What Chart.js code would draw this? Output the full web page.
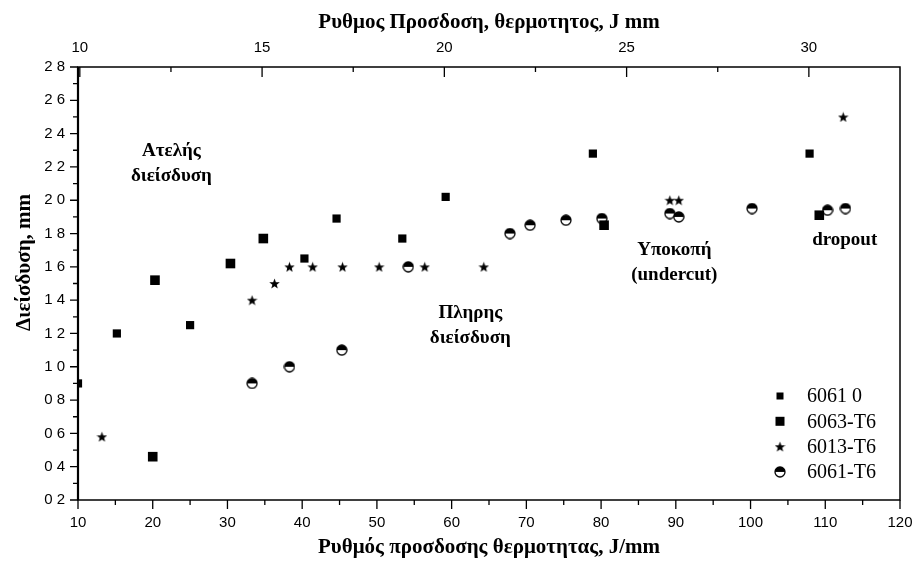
<!DOCTYPE html>
<html>
<head>
<meta charset="utf-8">
<script src="https://cdn.jsdelivr.net/npm/chart.js@4.4.1/dist/chart.umd.min.js"></script>
<style>
  html, body { margin: 0; padding: 0; background: #fff; }
  #wrap { width: 917px; height: 571px; }
</style>
</head>
<body>
<div id="wrap"><canvas id="penChart" width="917" height="571"></canvas></div>
<script>
// heat input (J/mm) and penetration depth (mm) per alloy
const heat6061O = [10, 15.2, 25.0, 40.3, 44.6, 53.4, 59.2, 78.9, 107.9];
const depth6061O = [0.90, 1.20, 1.25, 1.65, 1.89, 1.77, 2.02, 2.28, 2.28];

const heat6063T6 = [20.0, 20.3, 30.4, 34.8, 80.4, 109.2];
const depth6063T6 = [0.46, 1.52, 1.62, 1.77, 1.85, 1.91];

const heat6013T6 = [13.2, 33.3, 36.3, 38.3, 41.4, 45.4, 50.3, 56.4, 64.3, 89.2, 90.4, 112.4];
const depth6013T6 = [0.58, 1.40, 1.50, 1.60, 1.60, 1.60, 1.60, 1.60, 1.60, 2.00, 2.00, 2.50];

const heat6061T6 = [33.3, 38.3, 45.3, 54.2, 67.8, 70.5, 75.3, 80.1, 89.2, 90.4, 100.2, 110.3, 112.7];
const depth6061T6 = [0.90, 1.00, 1.10, 1.60, 1.80, 1.85, 1.88, 1.89, 1.92, 1.90, 1.95, 1.94, 1.95];

const seriesNames = ['6061 0', '6063-T6', '6013-T6', '6061-T6'];

// axis ticks
const xTicks = [10, 20, 30, 40, 50, 60, 70, 80, 90, 100, 110, 120];
const yTicks = [0.2, 0.4, 0.6, 0.8, 1.0, 1.2, 1.4, 1.6, 1.8, 2.0, 2.2, 2.4, 2.6, 2.8];
const topTicks = [10, 15, 20, 25, 30];

const yTitle = 'Διείσδυση, mm';

// region labels, placed in data units
const notes = [
    { lines: ['Ατελής', 'διείσδυση'], x: 22.5, y: 2.22 },
    { lines: ['Πληρης', 'διείσδυση'], x: 62.5, y: 1.25 },
    { lines: ['Υποκοπή', '(undercut)'], x: 89.8, y: 1.625 },
    { lines: ['dropout'], x: 112.6, y: 1.76 }
];

function toPoints(xs, ys) {
    return xs.map(function (x, i) { return { x: x, y: ys[i] }; });
}

function makeStar(size) {
    var c = document.createElement('canvas');
    c.width = size; c.height = size;
    var g = c.getContext('2d');
    var cx = size / 2, cy = size / 2 + 0.5, ro = size / 2, ri = ro * 0.42;
    g.beginPath();
    for (var i = 0; i < 10; i++) {
        var r = i % 2 === 0 ? ro : ri;
        var a = -Math.PI / 2 + i * Math.PI / 5;
        g.lineTo(cx + r * Math.cos(a), cy + r * Math.sin(a));
    }
    g.closePath();
    g.fillStyle = '#000';
    g.fill();
    return c;
}

function makeHalfCircle(size) {
    var c = document.createElement('canvas');
    c.width = size; c.height = size;
    var g = c.getContext('2d');
    var cx = size / 2, cy = size / 2, r = size / 2 - 1;
    g.beginPath();
    g.arc(cx, cy, r, 0, Math.PI * 2);
    g.fillStyle = '#fff';
    g.fill();
    g.beginPath();
    g.arc(cx, cy, r, Math.PI, 0);
    g.closePath();
    g.fillStyle = '#000';
    g.fill();
    g.beginPath();
    g.arc(cx, cy, r, 0, Math.PI * 2);
    g.lineWidth = 1.3;
    g.strokeStyle = '#000';
    g.stroke();
    return c;
}

const starImg = makeStar(11);
const halfImg = makeHalfCircle(12);

function noEdgePadding(s) {
    s.paddingLeft = 0; s.paddingRight = 0; s.paddingTop = 0; s.paddingBottom = 0;
}

// minor ticks, axis frame, y title, region labels and the inset legend
const framePlugin = {
    id: 'frame',
    afterDraw: function (chart) {
        var ctx = chart.ctx;
        var a = chart.chartArea;
        var sx = chart.scales.x, sy = chart.scales.y, st = chart.scales.x2;
        ctx.save();
        ctx.strokeStyle = '#000';

        ctx.lineWidth = 1.5;
        ctx.strokeRect(a.left, a.top, a.right - a.left, a.bottom - a.top);
        ctx.lineWidth = 2.2;
        ctx.beginPath();
        ctx.moveTo(a.left, a.top); ctx.lineTo(a.left, a.bottom);
        ctx.stroke();

        ctx.lineWidth = 1.3;
        ctx.beginPath();
        // bottom: major + half-step minor, pointing out
        for (var i = 0; i < xTicks.length; i++) {
            var px = sx.getPixelForValue(xTicks[i]);
            ctx.moveTo(px, a.bottom); ctx.lineTo(px, a.bottom + 9);
            if (i < xTicks.length - 1) {
                var pm = sx.getPixelForValue((xTicks[i] + xTicks[i + 1]) / 2);
                ctx.moveTo(pm, a.bottom); ctx.lineTo(pm, a.bottom + 5);
            }
        }
        // left
        for (var j = 0; j < yTicks.length; j++) {
            var py = sy.getPixelForValue(yTicks[j]);
            ctx.moveTo(a.left, py); ctx.lineTo(a.left - 8, py);
            if (j < yTicks.length - 1) {
                var pym = sy.getPixelForValue((yTicks[j] + yTicks[j + 1]) / 2);
                ctx.moveTo(a.left, pym); ctx.lineTo(a.left - 5, pym);
            }
        }
        // top: pointing in
        for (var k = 0; k < topTicks.length; k++) {
            var pt = st.getPixelForValue(topTicks[k]);
            ctx.moveTo(pt, a.top); ctx.lineTo(pt, a.top + 10);
            var ptm = st.getPixelForValue(topTicks[k] + 2.5);
            if (ptm < a.right) { ctx.moveTo(ptm, a.top); ctx.lineTo(ptm, a.top + 5); }
        }
        ctx.stroke();

        ctx.fillStyle = '#000';
        ctx.textAlign = 'center';
        ctx.textBaseline = 'middle';

        // y title sits a little above the axis middle
        ctx.save();
        ctx.translate(25, (a.top + a.bottom) / 2 - 21);
        ctx.rotate(-Math.PI / 2);
        ctx.font = 'bold 21px "Liberation Serif", "Times New Roman", serif';
        ctx.fillText(yTitle, 0, 0);
        ctx.restore();

        ctx.font = 'bold 19px "Liberation Serif", "Times New Roman", serif';
        notes.forEach(function (n) {
            var x0 = sx.getPixelForValue(n.x);
            var y0 = sy.getPixelForValue(n.y) - (n.lines.length - 1) * 12.5;
            n.lines.forEach(function (line, li) {
                ctx.fillText(line, x0, y0 + li * 25);
            });
        });

        // legend
        var lx = 780, ly = 396, step = 25.3;
        ctx.font = '20px "Liberation Serif", "Times New Roman", serif';
        ctx.textAlign = 'left';
        chart.data.datasets.forEach(function (ds, di) {
            var yy = ly + di * step;
            if (ds.pointStyle === 'rect') {
                var s = di === 0 ? 7 : 9;
                ctx.fillRect(lx - s / 2, yy - s / 2, s, s);
            } else {
                var img = ds.pointStyle;
                ctx.drawImage(img, lx - img.width / 2, yy - img.height / 2);
            }
            ctx.fillText(ds.label, lx + 27, yy + 1);
        });
        ctx.restore();
    }
};

const titleFont = { family: '"Liberation Serif", "Times New Roman", serif', size: 21, weight: 'bold' };
const tickFont = { family: '"Liberation Sans", Arial, sans-serif', size: 15 };

new Chart(document.getElementById('penChart').getContext('2d'), {
    type: 'scatter',
    data: {
        datasets: [
            { label: seriesNames[0], data: toPoints(heat6061O, depth6061O), pointStyle: 'rect', pointRadius: 5.8, backgroundColor: '#000', borderWidth: 0, clip: 0 },
            { label: seriesNames[1], data: toPoints(heat6063T6, depth6063T6), pointStyle: 'rect', pointRadius: 6.8, backgroundColor: '#000', borderWidth: 0, clip: 0 },
            { label: seriesNames[2], data: toPoints(heat6013T6, depth6013T6), pointStyle: starImg, pointRadius: 5, clip: 0 },
            { label: seriesNames[3], data: toPoints(heat6061T6, depth6061T6), pointStyle: halfImg, pointRadius: 5, clip: 0 }
        ]
    },
    options: {
        responsive: false,
        animation: false,
        layout: { padding: { left: 0, right: 17, top: 0, bottom: 0 } },
        plugins: { legend: { display: false }, tooltip: { enabled: false } },
        scales: {
            x: {
                type: 'linear', position: 'bottom', min: 10, max: 120,
                afterBuildTicks: function (s) { s.ticks = xTicks.map(function (v) { return { value: v }; }); },
                afterFit: function (s) { s.height = 71; noEdgePadding(s); },
                grid: { display: false },
                border: { display: false },
                ticks: { color: '#000', font: tickFont, padding: 6, maxRotation: 0 },
                title: { display: true, text: 'Ρυθμός προσδοσης θερμοτητας, J/mm', color: '#000', font: titleFont, padding: { top: 0, bottom: 11 } }
            },
            x2: {
                type: 'linear', position: 'top', min: 9.95, max: 32.5,
                afterBuildTicks: function (s) { s.ticks = topTicks.map(function (v) { return { value: v }; }); },
                afterFit: function (s) { s.height = 67; noEdgePadding(s); },
                grid: { display: false },
                border: { display: false },
                ticks: { color: '#000', font: tickFont, padding: 2, maxRotation: 0 },
                title: { display: true, text: 'Ρυθμος Προσδοση, θερμοτητος, J mm', color: '#000', font: titleFont, padding: { top: 10, bottom: 0 } }
            },
            y: {
                type: 'linear', position: 'left', min: 0.2, max: 2.8,
                afterBuildTicks: function (s) { s.ticks = yTicks.map(function (v) { return { value: v }; }); },
                afterFit: function (s) { s.width = 78; noEdgePadding(s); },
                grid: { display: false },
                border: { display: false },
                ticks: {
                    color: '#000', font: tickFont, padding: 5,
                    callback: function (v) { return Number(v).toFixed(1).replace('.', ' '); }
                },
                title: { display: false }
            }
        }
    },
    plugins: [framePlugin]
});
</script>
</body>
</html>
